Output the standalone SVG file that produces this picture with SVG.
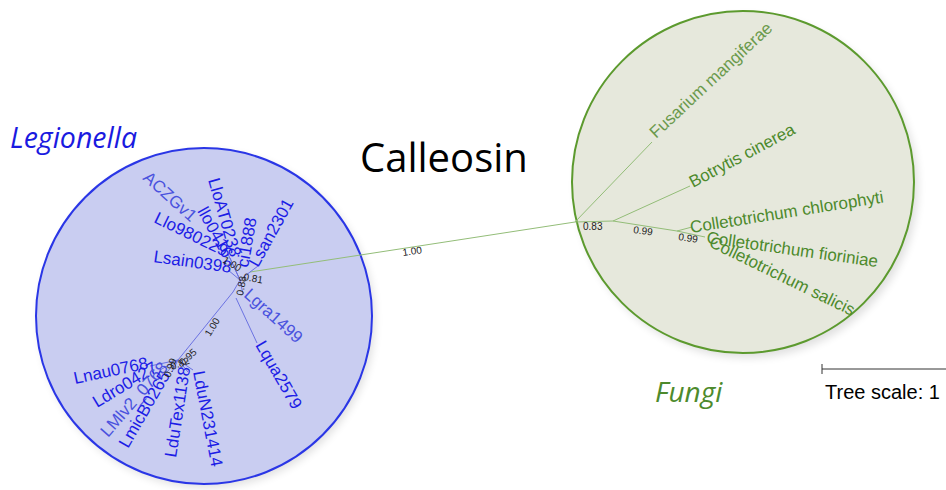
<svg xmlns="http://www.w3.org/2000/svg" width="946" height="490" viewBox="0 0 946 490">
<defs>
<filter id="sh" x="-20%" y="-20%" width="140%" height="140%"><feGaussianBlur stdDeviation="4"/></filter>
</defs>
<style>
.leaf{font-family:"Liberation Sans",Arial,sans-serif;font-size:17px;fill:#1c1ce6}
.leafl{font-family:"Liberation Sans",Arial,sans-serif;font-size:17px;fill:#4a52de}
.fg{font-family:"Liberation Sans",Arial,sans-serif;font-size:17px;fill:#4d8a2c}
.fgl{font-family:"Liberation Sans",Arial,sans-serif;font-size:17px;fill:#6b9a4c}
.bs{font-family:"Liberation Sans",Arial,sans-serif;font-size:10px;fill:#222}
.br{stroke:#6b72e2;stroke-width:1;fill:none}
.gr{stroke:#93bd78;stroke-width:1;fill:none}
</style>
<rect width="946" height="490" fill="#fff"/>
<g id="legionella-clade">
<circle cx="207" cy="320" r="168" fill="#000" opacity="0.12" filter="url(#sh)"/>
<circle cx="204" cy="316" r="168" fill="#c9cdf1" stroke="#2a36e6" stroke-width="2"/>
</g>
<g id="fungi-clade">
<circle cx="747" cy="187" r="171" fill="#000" opacity="0.12" filter="url(#sh)"/>
<circle cx="743" cy="182" r="171" fill="#e6e8dc" stroke="#5c9a2e" stroke-width="2"/>
</g>
<g id="connectors">
<line class="gr" x1="250" y1="272" x2="575" y2="222"/>
<line class="gr" x1="575" y1="222" x2="652" y2="142"/>
<line class="gr" x1="575" y1="222" x2="613" y2="221"/>
<line class="gr" x1="613" y1="221" x2="690" y2="186"/>
<line class="gr" x1="613" y1="221" x2="677" y2="231"/>
<line class="gr" x1="677" y1="231" x2="692" y2="227"/>
<line class="gr" x1="677" y1="231" x2="705" y2="237"/>
<line class="br" x1="250" y1="272" x2="240" y2="280"/>
<line class="br" x1="240" y1="280" x2="233" y2="292"/>
<line class="br" x1="233" y1="292" x2="178" y2="360"/>
<line class="br" x1="236" y1="298" x2="257" y2="343"/>
<line class="br" x1="240" y1="280" x2="243" y2="294"/>
<line class="br" x1="250" y1="272" x2="258" y2="266"/>
<line class="br" x1="178" y1="360" x2="150" y2="366"/>
<line class="br" x1="178" y1="360" x2="160" y2="370"/>
<line class="br" x1="178" y1="360" x2="166" y2="373"/>
<line class="br" x1="178" y1="360" x2="172" y2="372"/>
<line class="br" x1="178" y1="360" x2="188" y2="372"/>
<line class="br" x1="178" y1="360" x2="193" y2="370"/>
<line class="br" x1="240" y1="280" x2="228" y2="270"/>
<line class="br" x1="240" y1="280" x2="230" y2="258"/>
<line class="br" x1="240" y1="280" x2="228" y2="254"/>
</g>
<g id="title"><text x="360" y="172" font-family="'Open Sans','Liberation Sans',sans-serif" font-size="40" fill="#000">Calleosin</text></g>
<g id="label-legionella"><text x="10" y="148" font-family="'Open Sans','Liberation Sans',sans-serif" font-size="28.5" font-style="italic" fill="#1a1ae0">Legionella</text></g>
<g id="label-fungi"><text x="655" y="402" font-family="'Open Sans','Liberation Sans',sans-serif" font-size="28" font-style="italic" fill="#4d8a2c">Fungi</text></g>
<g id="tree-scale">
<line x1="822" y1="369" x2="946" y2="369" stroke="#333" stroke-width="1"/>
<line x1="822" y1="364" x2="822" y2="374" stroke="#333" stroke-width="1"/>
<text x="825" y="399" font-family="'Liberation Sans',Arial,sans-serif" font-size="20" fill="#000">Tree scale: 1</text>
</g>
<g id="fungi-leaves">
<text class="fgl" transform="translate(656,139) rotate(-43)">Fusarium mangiferae</text>
<text class="fg" transform="translate(693,188) rotate(-28)">Botrytis cinerea</text>
<text class="fg" transform="translate(691,233) rotate(-9)">Colletotrichum chlorophyti</text>
<text class="fg" transform="translate(706,243) rotate(8)">Colletotrichum fioriniae</text>
<text class="fg" transform="translate(708,246) rotate(26)">Colletotrichum salicis</text>
</g>
<g id="fungi-support">
<text class="bs" x="583" y="230">0.83</text>
<text class="bs" transform="translate(633,233) rotate(7)">0.99</text>
<text class="bs" transform="translate(678,240) rotate(8)">0.99</text>
<text class="bs" transform="translate(403,256) rotate(-8)">1.00</text>
</g>
<g id="legionella-leaves">
<text class="leafl" transform="translate(142,179) rotate(42)">ACZGv1</text>
<text class="leaf" transform="translate(208,180) rotate(74)">LloAT0238</text>
<text class="leaf" transform="translate(197,211) rotate(61)">llo0416</text>
<text class="leaf" transform="translate(153,222) rotate(26)">Llo980229</text>
<text class="leaf" transform="translate(153,262) rotate(8)">Lsain0398</text>
<text class="leaf" transform="translate(248,268) rotate(-80)">ci1888</text>
<text class="leaf" transform="translate(258,268) rotate(-61)">Lsan2301</text>
<text class="leafl" transform="translate(243,296) rotate(42)">Lgra1499</text>
<text class="leaf" transform="translate(255,345) rotate(60)">Lqua2579</text>
<text class="leaf" transform="translate(75,384) rotate(-12)">Lnau0768</text>
<text class="leaf" transform="translate(97,408) rotate(-31)">Ldro0427</text>
<text class="leafl" transform="translate(108,438) rotate(-49)">LMlv2_0768</text>
<text class="leaf" transform="translate(128,449) rotate(-60)">LmicB0265</text>
<text class="leaf" transform="translate(176,458) rotate(-81)">LduTex1138</text>
<text class="leaf" transform="translate(193,372) rotate(79)">LduN231414</text>
</g>
<g id="legionella-support">
<text class="bs" transform="translate(210,337) rotate(-58)">1.00</text>
<text class="bs" transform="translate(183,366) rotate(-42)">0.95</text>
<text class="bs" transform="translate(172,370) rotate(-20)">0.82</text>
<text class="bs" transform="translate(170,378) rotate(-70)">0.99</text>
<text class="bs" transform="translate(222,262) rotate(30)">1.00</text>
<text class="bs" transform="translate(243,280) rotate(10)">0.81</text>
<text class="bs" transform="translate(243,296) rotate(-80)">0.88</text>
</g>
</svg>
